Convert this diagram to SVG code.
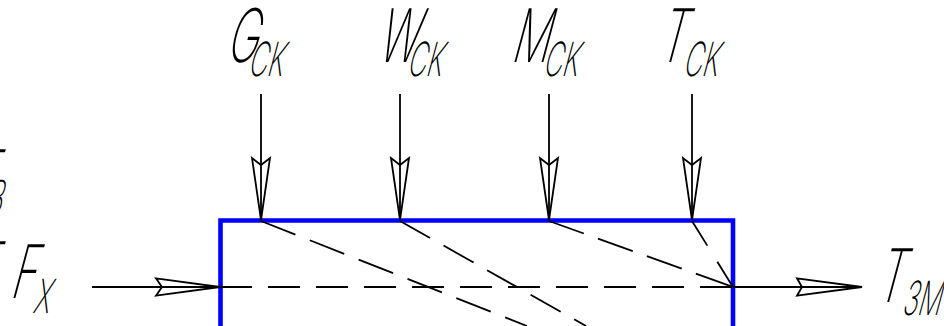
<svg xmlns="http://www.w3.org/2000/svg" width="944" height="326" viewBox="0 0 944 326">
<style>
.lbl{font-family:Inter,"Liberation Sans","DejaVu Sans",sans-serif;font-weight:250;font-size:74px;fill:#000}
.sub{font-size:47px}
.ln{stroke:#000;stroke-width:1.8;fill:none}
.ah{stroke:#000;stroke-width:1.8;fill:none;stroke-linejoin:miter}
.box{stroke:#0000FF;stroke-width:4.6;fill:none;stroke-linejoin:miter}
</style>
<rect width="944" height="326" fill="#fff"/>
<g id="block">
<path class="box" d="M220.5,326 V220.5 H733 V326"/>
</g>
<g id="label-left-partial">
<text class="lbl" transform="translate(-33,203) skewX(-15) scale(0.58,1)">T</text>
<text class="lbl sub" transform="translate(1,214) skewX(-15) scale(0.58,1)" text-anchor="end">В</text>
<text class="lbl" transform="translate(-33,295) skewX(-15) scale(0.58,1)">T</text>
</g>
<g id="label-G">
<text class="lbl" transform="translate(225,62) skewX(-15) scale(0.57,1)">G</text>
<text class="lbl sub" transform="translate(247,75.5) skewX(-15) scale(0.55,1)">CK</text>
</g>
<g id="label-W">
<text class="lbl" transform="translate(376,62) skewX(-15) scale(0.57,1)">W</text>
<text class="lbl sub" transform="translate(406,75.5) skewX(-15) scale(0.55,1)">CK</text>
</g>
<g id="label-M">
<text class="lbl" transform="translate(510,62) skewX(-15) scale(0.57,1)">M</text>
<text class="lbl sub" transform="translate(542,75.5) skewX(-15) scale(0.55,1)">CK</text>
</g>
<g id="label-T">
<text class="lbl" transform="translate(657,62) skewX(-15) scale(0.57,1)">T</text>
<text class="lbl sub" transform="translate(682,75.5) skewX(-15) scale(0.55,1)">CK</text>
</g>
<g id="label-F">
<text class="lbl" transform="translate(9,298) skewX(-15) scale(0.57,1)">F</text>
<text class="lbl sub" transform="translate(32,313) skewX(-15) scale(0.55,1)">X</text>
</g>
<g id="label-Tzm">
<text class="lbl" transform="translate(875,302) skewX(-15) scale(0.57,1)">T</text>
<text class="lbl sub" transform="translate(901,315) skewX(-15) scale(0.55,1)">ЗМ</text>
</g>
<g id="connectors">
<path class="ln" d="M261,94 V220 M400,94 V220 M549,94 V220 M692,94 V220"/>
<path class="ah" d="M261,220 L252,158 L261,165 L270,158 Z"/>
<path class="ah" d="M400,220 L391,158 L400,165 L409,158 Z"/>
<path class="ah" d="M549,220 L540,158 L549,165 L558,158 Z"/>
<path class="ah" d="M692,220 L683,158 L692,165 L701,158 Z"/>
<path class="ln" d="M92,287 H220 M733,287 H862"/>
<path class="ah" d="M220,287 L156,278.3 L162,287 L156,295.7 Z"/>
<path class="ah" d="M862,287 L797,278.3 L802,287 L797,295.7 Z"/>
<path class="ln" stroke-dasharray="32 16" d="M220,287 H733"/>
<path class="ln" stroke-dasharray="37 15.5" d="M261,221 L527,326"/>
<path class="ln" stroke-dasharray="34.5 15.5" d="M400,221 L586,326"/>
<path class="ln" stroke-dasharray="37 15" d="M549,221 L733,287"/>
<path class="ln" stroke-dasharray="29 19" d="M692,221 L733,287"/>
</g>
</svg>
